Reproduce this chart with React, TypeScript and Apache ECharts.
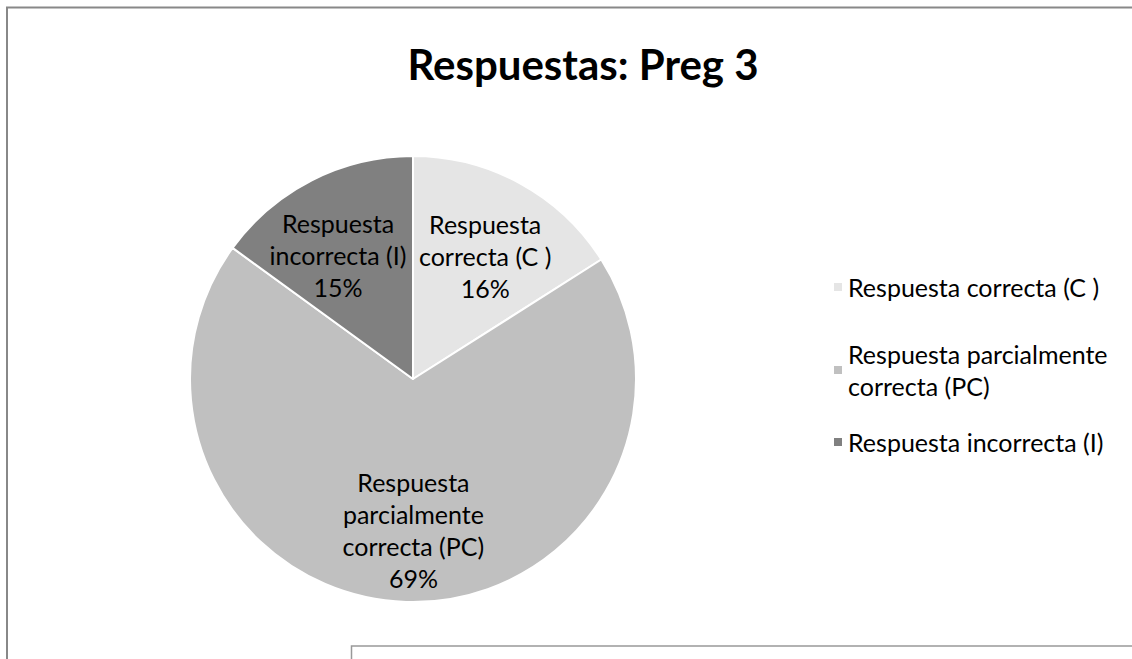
import React, { useEffect, useRef } from "react";
import * as echarts from "echarts";

const chartTitle = "Respuestas: Preg 3";
const categories = [
  "Respuesta correcta (C )",
  "Respuesta parcialmente correcta (PC)",
  "Respuesta incorrecta (I)",
];
const values = [16, 69, 15];
const colors = ["#e5e5e5", "#c0c0c0", "#808080"];

function wrap(text: string, max: number): string {
  const words = text.split(" ");
  const lines: string[] = [];
  let cur = "";
  for (const w of words) {
    if (!cur) cur = w;
    else if ((cur + " " + w).length <= max) cur += " " + w;
    else {
      lines.push(cur);
      cur = w;
    }
  }
  if (cur) lines.push(cur);
  return lines.join("\n");
}

const FONT = "Lato";

export default function App() {
  const ref = useRef<HTMLDivElement>(null);
  useEffect(() => {
    if (!ref.current) return;
    const chart = echarts.init(ref.current, undefined, { renderer: "svg" });
    const labelOffsets = [
      [17, -23],
      [4, 37],
      [-23, -22],
    ];
    const legendCenters = [287, 370, 442];
    const legends = categories.map((name, i) => {
      const multi = wrap(name, 24).indexOf("\n") >= 0;
      return {
        orient: "vertical",
        left: 832,
        top: multi ? legendCenters[i] - 48 : legendCenters[i] - 16,
        padding: 0,
        itemWidth: 10,
        itemHeight: 10,
        icon: "rect",
        selectedMode: false,
        data: [name],
        formatter: (n: string) => wrap(n, 24),
        textStyle: {
          fontFamily: FONT,
          fontSize: 25,
          lineHeight: 32,
          color: "#000",
          padding: multi ? [32, 0, 0, 0] : 0,
        },
      };
    });
    chart.setOption({
      animation: false,
      backgroundColor: "#ffffff",
      color: colors,
      legend: legends,
      graphic: [
        {
          type: "polyline",
          silent: true,
          shape: { points: [[7, 700], [7, 7.5], [1140, 7.5]] },
          style: { stroke: "#888888", lineWidth: 2, fill: "none" },
        },
        {
          type: "rect",
          silent: true,
          shape: { x: 351.5, y: 646, width: 900, height: 100 },
          style: { stroke: "#999999", lineWidth: 1.5, fill: "#ffffff" },
        },
        {
          type: "text",
          silent: true,
          x: 583,
          y: 64,
          style: {
            text: chartTitle,
            fontFamily: FONT,
            fontWeight: "bold",
            fontSize: 42,
            fill: "#000",
            align: "center",
            verticalAlign: "middle",
          },
        },
      ],
      series: [
        {
          type: "pie",
          center: [413, 379],
          radius: 223,
          startAngle: 90,
          clockwise: true,
          silent: true,
          itemStyle: { borderColor: "#ffffff", borderWidth: 2 },
          labelLine: { show: false },
          label: {
            show: true,
            position: "inside",
            fontFamily: FONT,
            fontSize: 25,
            lineHeight: 32,
            color: "#000",
            align: "center",
            formatter: (p: any) => wrap(p.name, 14) + "\n" + p.value + "%",
          },
          data: categories.map((name, i) => ({
            name,
            value: values[i],
            label: { offset: labelOffsets[i] },
          })),
        },
      ],
    });
    return () => chart.dispose();
  }, []);
  return (
    <div
      ref={ref}
      style={{ position: "fixed", left: 0, top: 0, width: 1132, height: 659 }}
    />
  );
}
